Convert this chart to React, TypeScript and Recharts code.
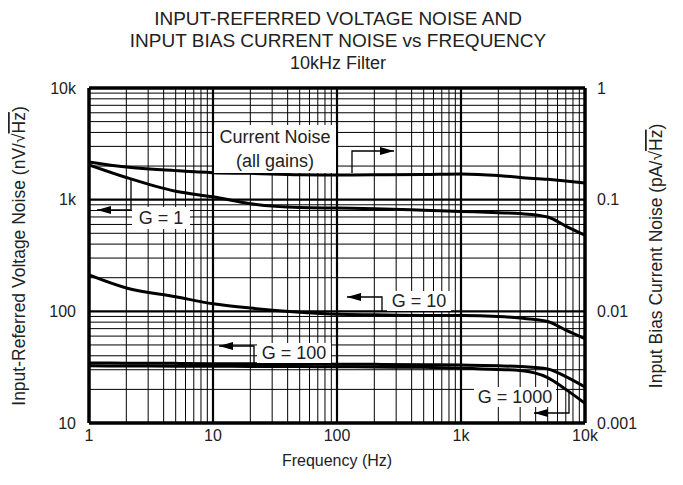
import { Line, LineChart, ReferenceLine, XAxis, YAxis } from "recharts";

// frequency points (Hz)
const FREQ = [1, 2, 5, 10, 20, 50, 100, 200, 500, 1000, 2000, 3000, 5000, 7000, 10000];
// input bias current noise, pA/√Hz (right axis)
const CURRENT_NOISE = [0.218, 0.196, 0.182, 0.1745, 0.172, 0.167, 0.1665, 0.167, 0.168, 0.17, 0.1645, 0.158, 0.152, 0.147, 0.141];
// input-referred voltage noise, nV/√Hz (left axis)
const G1 = [2050, 1580, 1190, 1060, 920, 850, 840, 830, 805, 785, 765, 750, 700, 580, 480];
const G10 = [212, 162, 135, 117, 107, 98, 94, 93, 92, 92, 90, 87, 81, 68, 57];
const G100 = [34.5, 34.3, 34.2, 34, 34, 33.8, 33.6, 33.5, 33.3, 33, 32.5, 32, 30.5, 26, 21];
const G1000 = [32.5, 32.4, 32.3, 32.2, 32.1, 32, 31.9, 31.7, 31.5, 31, 30.2, 29.5, 25.5, 20, 15];

const X_TICKS = [1, 10, 100, 1000, 10000];
const X_LABELS = ["1", "10", "100", "1k", "10k"];
const LEFT_TICKS = [10, 100, 1000, 10000];
const LEFT_LABELS = ["10", "100", "1k", "10k"];
const RIGHT_TICKS = [0.001, 0.01, 0.1, 1];
const RIGHT_LABELS = ["0.001", "0.01", "0.1", "1"];

const TITLE = ["INPUT-REFERRED VOLTAGE NOISE AND", "INPUT BIAS CURRENT NOISE vs FREQUENCY", "10kHz Filter"];

const FONT = "'Liberation Sans', Arial, sans-serif";

const toPoints = (ys: number[]) => FREQ.map((f, i) => ({ f, v: ys[i] }));

// minor grid lines 2..9 in every decade
const minor = (from: number, decades: number) => {
  const out: number[] = [];
  for (let d = 0; d < decades; d++) for (let k = 2; k <= 9; k++) out.push(from * Math.pow(10, d) * k);
  return out;
};
const X_MINOR = minor(1, 4);
const Y_MINOR = minor(10, 3);

function Arrow({ pts, dir }: { pts: [number, number][]; dir: "left" | "right" }) {
  const [tx, ty] = pts[pts.length - 1];
  const head =
    dir === "left"
      ? `${tx},${ty} ${tx + 14},${ty - 4} ${tx + 14},${ty + 4}`
      : `${tx},${ty} ${tx - 14},${ty - 4} ${tx - 14},${ty + 4}`;
  return (
    <g>
      <polyline points={pts.map((p) => p.join(",")).join(" ")} fill="none" stroke="#000" strokeWidth={1.3} />
      <polygon points={head} fill="#000" />
    </g>
  );
}

function Tag({ x, y, w, h, lines }: { x: number; y: number; w: number; h: number; lines: string[] }) {
  const step = 24;
  const y0 = y - ((lines.length - 1) * step) / 2;
  return (
    <g>
      <rect x={x - w / 2} y={y - h / 2} width={w} height={h} fill="#fff" />
      {lines.map((t, i) => (
        <text key={i} x={x} y={y0 + i * step} textAnchor="middle" dominantBaseline="central" fontSize={18} fontFamily={FONT} fill="#222">
          {t}
        </text>
      ))}
    </g>
  );
}

function Overlay() {
  return (
    <svg width={683} height={485} style={{ position: "absolute", left: 0, top: 0, pointerEvents: "none" }}>
      {TITLE.map((t, i) => (
        <text key={t} x={338} y={18 + i * 22.5} textAnchor="middle" dominantBaseline="central" fontSize={i === 2 ? 18 : 19} fontFamily={FONT} fill="#222">
          {t}
        </text>
      ))}
      <text x={337} y={460} textAnchor="middle" dominantBaseline="central" fontSize={16} fontFamily={FONT} fill="#222">
        Frequency (Hz)
      </text>
      <text transform="translate(19,256) rotate(-90)" textAnchor="middle" dominantBaseline="central" fontSize={17.5} fontFamily={FONT} fill="#222">
        Input-Referred Voltage Noise (nV/√<tspan style={{ textDecoration: "overline" }}>Hz</tspan>)
      </text>
      <text transform="translate(656,256) rotate(-90)" textAnchor="middle" dominantBaseline="central" fontSize={17.5} fontFamily={FONT} fill="#222">
        Input Bias Current Noise (pA/√<tspan style={{ textDecoration: "overline" }}>Hz</tspan>)
      </text>

      <Tag x={275} y={149} w={122} h={48} lines={["Current Noise", "(all gains)"]} />
      <Arrow pts={[[352, 173], [352, 151], [394, 151]]} dir="right" />

      <Tag x={161} y={218} w={58} h={22} lines={["G = 1"]} />
      <Arrow pts={[[131, 180], [131, 210], [97, 210]]} dir="left" />

      <Tag x={419} y={301} w={64} h={20} lines={["G = 10"]} />
      <Arrow pts={[[382, 312], [382, 297], [347, 297]]} dir="left" />

      <Tag x={294} y={353} w={74} h={20} lines={["G = 100"]} />
      <Arrow pts={[[254, 363], [254, 346], [219, 346]]} dir="left" />

      <Tag x={515} y={397} w={82} h={20} lines={["G = 1000"]} />
      <Arrow pts={[[569, 392], [569, 413], [534, 413]]} dir="left" />
    </svg>
  );
}

const tickStyle = { fill: "#222", fontSize: 16, fontFamily: FONT };

export default function App() {
  return (
    <div style={{ position: "absolute", left: 0, top: 0, width: 683, height: 485, background: "#fff" }}>
      <LineChart width={683} height={485} margin={{ top: 88, right: 38, bottom: 32, left: 29 }}>
        <XAxis
          dataKey="f"
          type="number"
          scale="log"
          domain={[1, 10000]}
          allowDataOverflow
          ticks={X_TICKS}
          tickFormatter={(v: number) => X_LABELS[X_TICKS.indexOf(v)] ?? ""}
          axisLine={false}
          tickLine={false}
          tickSize={0}
          tickMargin={7}
          height={30}
          tick={tickStyle}
          interval={0}
        />
        <YAxis
          yAxisId="left"
          type="number"
          scale="log"
          domain={[10, 10000]}
          allowDataOverflow
          ticks={LEFT_TICKS}
          tickFormatter={(v: number) => LEFT_LABELS[LEFT_TICKS.indexOf(v)] ?? ""}
          axisLine={false}
          tickLine={false}
          tickSize={0}
          tickMargin={13}
          width={60}
          tick={tickStyle}
          interval={0}
        />
        <YAxis
          yAxisId="right"
          orientation="right"
          type="number"
          scale="log"
          domain={[0.001, 1]}
          allowDataOverflow
          ticks={RIGHT_TICKS}
          tickFormatter={(v: number) => RIGHT_LABELS[RIGHT_TICKS.findIndex((t) => Math.abs(t - v) < t * 1e-6)] ?? ""}
          axisLine={false}
          tickLine={false}
          tickSize={0}
          tickMargin={12}
          width={60}
          tick={tickStyle}
          interval={0}
        />

        {X_MINOR.map((x) => (
          <ReferenceLine key={`xm${x}`} x={x} yAxisId="left" stroke="#000" strokeWidth={1} ifOverflow="hidden" />
        ))}
        {Y_MINOR.map((y) => (
          <ReferenceLine key={`ym${y}`} y={y} yAxisId="left" stroke="#000" strokeWidth={1} ifOverflow="hidden" />
        ))}
        {X_TICKS.slice(1, -1).map((x) => (
          <ReferenceLine key={`xd${x}`} x={x} yAxisId="left" stroke="#000" strokeWidth={2.2} />
        ))}
        {LEFT_TICKS.slice(1, -1).map((y) => (
          <ReferenceLine key={`yd${y}`} y={y} yAxisId="left" stroke="#000" strokeWidth={2.2} />
        ))}
        <ReferenceLine x={1} yAxisId="left" stroke="#000" strokeWidth={3.5} />
        <ReferenceLine x={10000} yAxisId="left" stroke="#000" strokeWidth={3.5} />
        <ReferenceLine y={10} yAxisId="left" stroke="#000" strokeWidth={3.5} />
        <ReferenceLine y={10000} yAxisId="left" stroke="#000" strokeWidth={3.5} />

        <Line yAxisId="right" data={toPoints(CURRENT_NOISE)} dataKey="v" type="monotone" stroke="#000" strokeWidth={3} dot={false} isAnimationActive={false} />
        <Line yAxisId="left" data={toPoints(G1)} dataKey="v" type="monotone" stroke="#000" strokeWidth={3} dot={false} isAnimationActive={false} />
        <Line yAxisId="left" data={toPoints(G10)} dataKey="v" type="monotone" stroke="#000" strokeWidth={3} dot={false} isAnimationActive={false} />
        <Line yAxisId="left" data={toPoints(G100)} dataKey="v" type="monotone" stroke="#000" strokeWidth={3} dot={false} isAnimationActive={false} />
        <Line yAxisId="left" data={toPoints(G1000)} dataKey="v" type="monotone" stroke="#000" strokeWidth={3} dot={false} isAnimationActive={false} />
      </LineChart>
      <Overlay />
    </div>
  );
}
